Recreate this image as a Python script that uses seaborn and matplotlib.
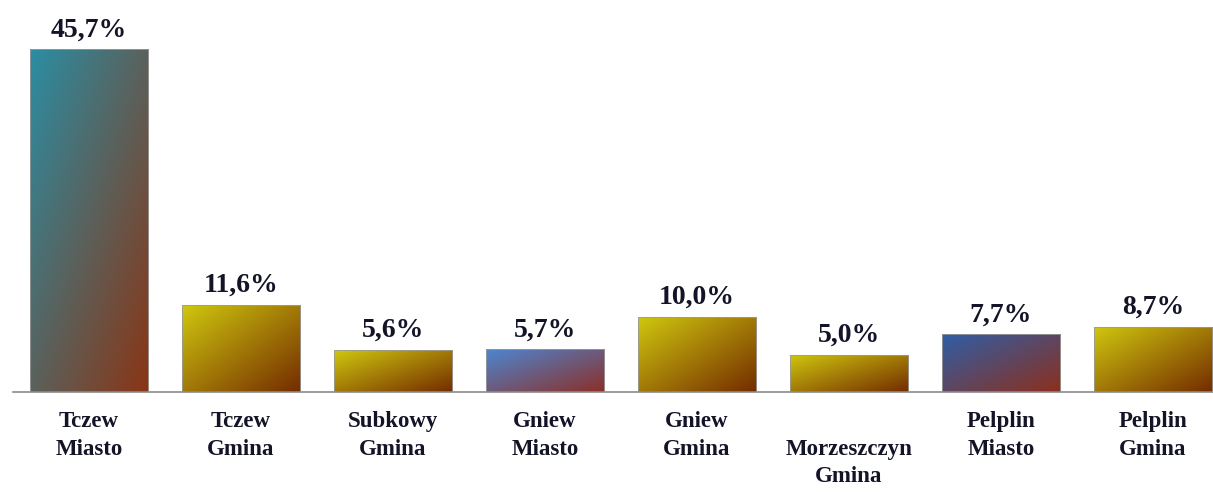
import matplotlib
matplotlib.use("Agg")
import matplotlib.pyplot as plt
import matplotlib.colors as mcolors
import numpy as np
import pandas as pd
import seaborn as sns

# data
gminy = ["Tczew\nMiasto", "Tczew\nGmina", "Subkowy\nGmina", "Gniew\nMiasto",
         "Gniew\nGmina", "\nMorzeszczyn\nGmina", "Pelplin\nMiasto", "Pelplin\nGmina"]
udzial = [45.7, 11.6, 5.6, 5.7, 10.0, 5.0, 7.7, 8.7]
etykiety = ["45,7%", "11,6%", "5,6%", "5,7%", "10,0%", "5,0%", "7,7%", "8,7%"]

# gradient colours per bar: (top-left, bottom-right)
gradienty = [("#2b8da3", "#8a3515"),
             ("#cfc70f", "#742c00"),
             ("#cfc70f", "#742c00"),
             ("#4d86d0", "#8c2f28"),
             ("#cfc70f", "#742c00"),
             ("#cfc70f", "#742c00"),
             ("#2f5ea6", "#8c2f1c"),
             ("#cfc70f", "#742c00")]

df = pd.DataFrame({"gmina": gminy, "udzial": udzial})

sns.set_style("white")
plt.rcParams["font.family"] = ["Liberation Serif", "DejaVu Serif"]

fig = plt.figure(figsize=(12.13, 4.92), dpi=100)
ax = fig.add_axes([13 / 1213, 100 / 492, 1216 / 1213, 392 / 492])

sns.barplot(data=df, x="gmina", y="udzial", ax=ax, width=0.78, color="white")

ax.set_xlim(-0.5, len(gminy) - 0.5)
ax.set_ylim(0, 392 / 7.5)

# diagonal gradient fill for every bar
yy, xx = np.mgrid[0:1:100j, 0:1:100j]
t = (xx + yy) / 2
for patch, (c1, c2) in zip(ax.patches, gradienty):
    cmap = mcolors.LinearSegmentedColormap.from_list("g", [c1, c2])
    x0, y0 = patch.get_x(), patch.get_y()
    w, h = patch.get_width(), patch.get_height()
    im = ax.imshow(t, cmap=cmap, extent=[x0, x0 + w, y0, y0 + h],
                   origin="upper", aspect="auto", zorder=2, vmin=0, vmax=1)
    im.set_clip_path(patch)
    patch.set_facecolor("none")
    patch.set_edgecolor("#9a9a9a")
    patch.set_linewidth(0.6)
    patch.set_zorder(3)

for i, (v, lab) in enumerate(zip(udzial, etykiety)):
    ax.annotate(lab, (i, v), xytext=(0, 5), textcoords="offset points",
                ha="center", va="bottom", fontsize=20, fontweight="bold",
                color="#141428")

sns.despine(ax=ax, left=True, top=True, right=True)
ax.spines["bottom"].set_color("#8a8a8a")
ax.spines["bottom"].set_linewidth(1.2)
ax.set_yticks([])
ax.set_xlabel("")
ax.set_ylabel("")
ax.set_xticks(range(len(gminy)))
ax.set_xticklabels(gminy, fontsize=16.5, fontweight="bold", color="#141428",
                   linespacing=1.4)
ax.tick_params(axis="x", which="major", length=0, pad=14)
ax.set_xticks(np.arange(-0.5, len(gminy)), minor=True)
ax.tick_params(axis="x", which="minor", length=7, color="#8a8a8a", width=1.2,
               direction="out")

fig.savefig("out.png", dpi=100)
